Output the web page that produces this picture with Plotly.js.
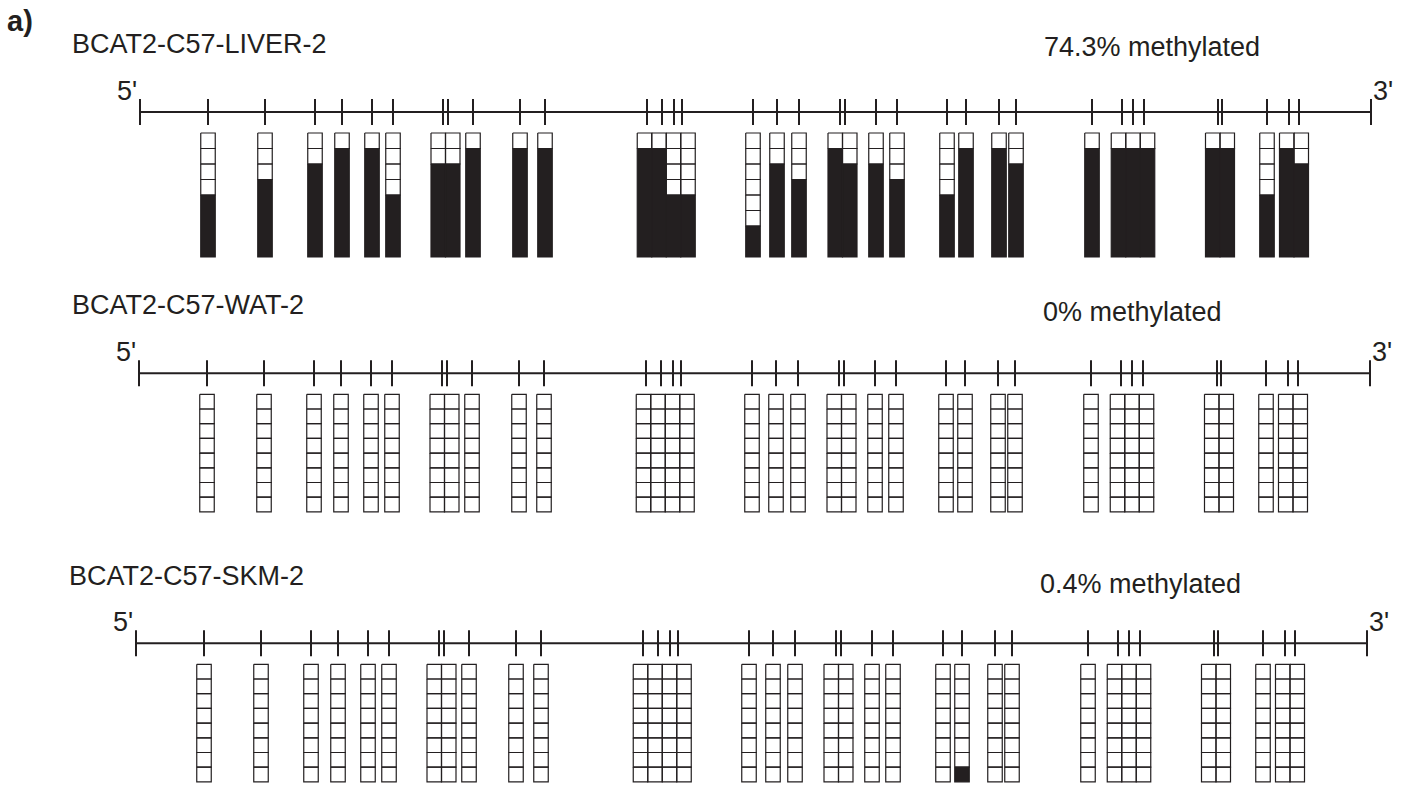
<!DOCTYPE html>
<html>
<head>
<meta charset="utf-8">
<script src="https://cdn.plot.ly/plotly-3.0.1.min.js"></script>
<style>
  html, body { margin: 0; padding: 0; background: #ffffff; }
  #chart { width: 1403px; height: 788px; }
</style>
</head>
<body>
<div id="chart"></div>
<script>
// ---------------- DATA ----------------
// CpG site positions along the amplicon (amplicon units, 0 = 5' end)
const cpgPositions = [68, 125, 175, 202, 232, 253, 303, 308, 333, 380, 405,
                      507, 522, 534, 542, 613, 637, 659, 700, 705, 736, 757,
                      807, 826, 859, 876, 952, 982, 993, 1004, 1078, 1082,
                      1127, 1149, 1159];
const ampliconLength = 1231;
const clonesPerSample = 8;

const sampleNames = ['BCAT2-C57-LIVER-2', 'BCAT2-C57-WAT-2', 'BCAT2-C57-SKM-2'];
const methylationLabels = ['74.3% methylated', '0% methylated', '0.4% methylated'];

// number of methylated clones (of 8) at each CpG site
const liverMethylated = [4, 5, 6, 7, 7, 4, 6, 6, 7, 7, 7,
                         7, 7, 4, 4, 2, 6, 5, 7, 6, 6, 5,
                         4, 7, 7, 6, 7, 7, 7, 7, 7, 7,
                         4, 7, 6];
const watMethylated   = [0, 0, 0, 0, 0, 0, 0, 0, 0, 0, 0,
                         0, 0, 0, 0, 0, 0, 0, 0, 0, 0, 0,
                         0, 0, 0, 0, 0, 0, 0, 0, 0, 0,
                         0, 0, 0];
const skmMethylated   = [0, 0, 0, 0, 0, 0, 0, 0, 0, 0, 0,
                         0, 0, 0, 0, 0, 0, 0, 0, 0, 0, 0,
                         0, 1, 0, 0, 0, 0, 0, 0, 0, 0,
                         0, 0, 0];
const samples = [liverMethylated, watMethylated, skmMethylated];

// ---------------- LAYOUT / STYLE ----------------
const W = 1403, H = 788;
const INK = '#231f20';
const FONT = 'Liberation Sans, Arial, Helvetica, sans-serif';
const FS = 27;
const colWidth = 14.5;
const tickHalf = 13;
const colTopGap = 21;
// per panel: vertical band (px), backbone line y (px), line start x (px), row height
const panels = [
  { bandTop: 0,   bandBottom: 275, lineY: 112,   lineX: 140, rowH: 15.5,  titleDy: -68, pctDy: -65 },
  { bandTop: 275, bandBottom: 545, lineY: 373.3, lineX: 139, rowH: 14.7,  titleDy: -68, pctDy: -61 },
  { bandTop: 545, bandBottom: 788, lineY: 643.3, lineX: 136, rowH: 14.7,  titleDy: -67, pctDy: -59 }
];
const titleX = [-70, -69, -69];
const pctX = 902;

// ---- column placement: columns centred on CpG ticks, packed when overlapping ----
function placeColumns(pos, w) {
  const clusters = [];
  pos.forEach((p, i) => {
    clusters.push({ idx: [i], sum: p });
    while (clusters.length > 1) {
      const a = clusters[clusters.length - 2], b = clusters[clusters.length - 1];
      const aC = a.sum / a.idx.length, bC = b.sum / b.idx.length;
      const aR = aC + a.idx.length * w / 2, bL = bC - b.idx.length * w / 2;
      if (aR > bL) {
        clusters.pop(); clusters.pop();
        clusters.push({ idx: a.idx.concat(b.idx), sum: a.sum + b.sum });
      } else break;
    }
  });
  const left = new Array(pos.length);
  clusters.forEach(c => {
    const n = c.idx.length, cen = c.sum / n, l0 = cen - n * w / 2;
    c.idx.forEach((k, j) => { left[k] = l0 + j * w; });
  });
  return left;
}
const colLeft = placeColumns(cpgPositions, colWidth);

function rectPath(xs, ys, x0, x1, y0, y1) {
  xs.push(x0, x1, x1, x0, x0, null);
  ys.push(y0, y0, y1, y1, y0, null);
}

const traces = [];
const annotations = [];
const layout = {
  width: W, height: H,
  margin: { l: 0, r: 0, t: 0, b: 0 },
  paper_bgcolor: '#ffffff', plot_bgcolor: '#ffffff',
  showlegend: false,
  hovermode: false,
  font: { family: FONT, color: INK, size: FS }
};

panels.forEach((p, k) => {
  const sfx = k === 0 ? '' : String(k + 1);
  const xa = 'x' + sfx, ya = 'y' + sfx;
  layout['xaxis' + sfx] = {
    domain: [0, 1], range: [-p.lineX, W - p.lineX], visible: false,
    fixedrange: true, anchor: ya
  };
  layout['yaxis' + sfx] = {
    domain: [1 - p.bandBottom / H, 1 - p.bandTop / H],
    range: [p.bandBottom - p.lineY, p.bandTop - p.lineY], visible: false,
    fixedrange: true, anchor: xa
  };

  // backbone + end ticks
  traces.push({
    type: 'scatter', mode: 'lines', xaxis: xa, yaxis: ya, hoverinfo: 'skip',
    x: [0, ampliconLength, null, 0, 0, null, ampliconLength, ampliconLength],
    y: [0, 0, null, -tickHalf, tickHalf, null, -tickHalf, tickHalf],
    line: { color: INK, width: 2 }
  });
  // CpG ticks
  const tx = [], ty = [];
  cpgPositions.forEach(c => { tx.push(c, c, null); ty.push(-tickHalf, tickHalf, null); });
  traces.push({
    type: 'scatter', mode: 'lines', xaxis: xa, yaxis: ya, hoverinfo: 'skip',
    x: tx, y: ty, line: { color: INK, width: 2 }
  });

  // cells
  const wx = [], wy = [], bx = [], by = [];
  const meth = samples[k];
  cpgPositions.forEach((c, i) => {
    const x0 = colLeft[i], x1 = x0 + colWidth;
    const unmeth = clonesPerSample - meth[i];
    for (let r = 0; r < unmeth; r++) {
      rectPath(wx, wy, x0, x1, colTopGap + r * p.rowH, colTopGap + (r + 1) * p.rowH);
    }
    if (meth[i] > 0) {
      rectPath(bx, by, x0, x1, colTopGap + unmeth * p.rowH, colTopGap + clonesPerSample * p.rowH);
    }
  });
  if (wx.length) traces.push({
    type: 'scatter', mode: 'lines', xaxis: xa, yaxis: ya, hoverinfo: 'skip',
    x: wx, y: wy, fill: 'toself', fillcolor: '#ffffff',
    line: { color: INK, width: 1.2 }
  });
  if (bx.length) traces.push({
    type: 'scatter', mode: 'lines', xaxis: xa, yaxis: ya, hoverinfo: 'skip',
    x: bx, y: by, fill: 'toself', fillcolor: INK,
    line: { color: INK, width: 1.2 }
  });

  // texts
  annotations.push({
    xref: xa, yref: ya, x: titleX[k], y: p.titleDy, xanchor: 'left', yanchor: 'middle',
    text: sampleNames[k], showarrow: false, font: { family: FONT, size: FS, color: INK }
  });
  annotations.push({
    xref: xa, yref: ya, x: pctX, y: p.pctDy, xanchor: 'left', yanchor: 'middle',
    text: methylationLabels[k], showarrow: false, font: { family: FONT, size: FS, color: INK }
  });
  annotations.push({
    xref: xa, yref: ya, x: -1, y: -21, xanchor: 'right', yanchor: 'middle',
    text: "5'", showarrow: false, font: { family: FONT, size: FS, color: INK }
  });
  annotations.push({
    xref: xa, yref: ya, x: ampliconLength, y: -21, xanchor: 'left', yanchor: 'middle',
    text: "3'", showarrow: false, font: { family: FONT, size: FS, color: INK }
  });
});

annotations.push({
  xref: 'paper', yref: 'paper', x: 5 / W, y: 1 - 21 / H, xanchor: 'left', yanchor: 'middle',
  text: '<b>a)</b>', showarrow: false, font: { family: FONT, size: 29, color: INK }
});
layout.annotations = annotations;

Plotly.newPlot('chart', traces, layout, { staticPlot: true, displayModeBar: false });
</script>
</body>
</html>
